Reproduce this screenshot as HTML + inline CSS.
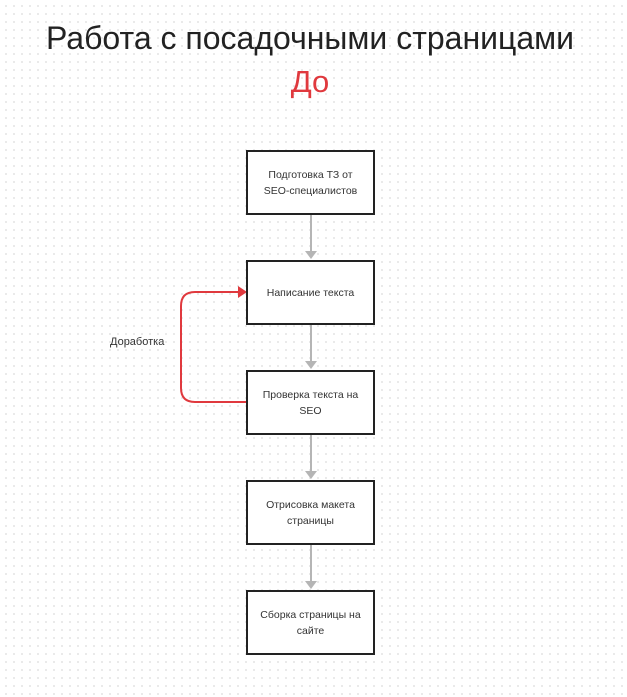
<!DOCTYPE html>
<html><head><meta charset="utf-8"><style>
body{margin:0;width:627px;height:697px;overflow:hidden;background:#fff;
background-image:radial-gradient(circle,#dcdcdc 0.7px,transparent 1px);background-size:8px 8px;background-position:2px 2px;
font-family:"Liberation Sans",sans-serif;position:relative}
.t{position:absolute;left:0;width:620px;text-align:center;color:#222}
.b{position:absolute;left:246px;width:125px;height:61px;border:2px solid #222;background:#fff;display:flex;align-items:center;justify-content:center;text-align:center;font-size:10.5px;line-height:16px;color:#333}
</style></head><body>
<div class="t" style="top:20px;font-size:32px;">Работа с посадочными страницами</div>
<div class="t" style="top:64px;font-size:31px;color:#e0393e;">До</div>
<svg width="627" height="697" style="position:absolute;left:0;top:0">
<g stroke="#b5b5b5" stroke-width="2" fill="#b5b5b5">
<line x1="311" y1="215" x2="311" y2="252"/><polygon points="305,251 317,251 311,259" stroke="none"/>
<line x1="311" y1="325" x2="311" y2="362"/><polygon points="305,361 317,361 311,369" stroke="none"/>
<line x1="311" y1="435" x2="311" y2="472"/><polygon points="305,471 317,471 311,479" stroke="none"/>
<line x1="311" y1="545" x2="311" y2="582"/><polygon points="305,581 317,581 311,589" stroke="none"/>
</g>
<path d="M247,402 H195 Q181,402 181,388 V306 Q181,292 195,292 H240" stroke="#e0393e" stroke-width="2" fill="none"/>
<polygon points="238,286 247,292 238,298" fill="#e0393e"/>
</svg>
<div class="b" style="top:150px">Подготовка ТЗ от<br>SEO-специалистов</div>
<div class="b" style="top:260px">Написание текста</div>
<div class="b" style="top:370px">Проверка текста на<br>SEO</div>
<div class="b" style="top:480px">Отрисовка макета<br>страницы</div>
<div class="b" style="top:590px">Сборка страницы на<br>сайте</div>
<div style="position:absolute;left:110px;top:336px;font-size:11px;color:#333">Доработка</div>
</body></html>
